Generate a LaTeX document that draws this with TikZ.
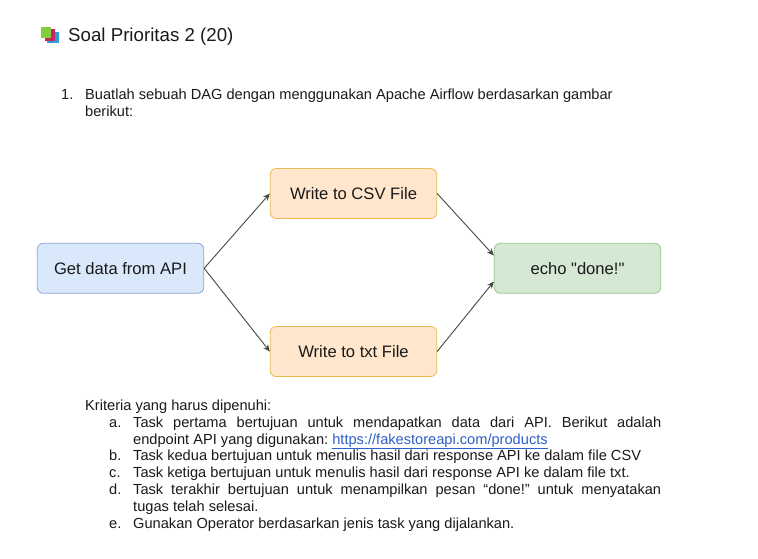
\documentclass[tikz,border=0pt]{standalone}
\usepackage{fontspec}
\setmainfont[Ligatures=TeXOff]{Liberation Sans}
\usetikzlibrary{arrows.meta}
\definecolor{ink}{HTML}{1A1A1A}
\definecolor{linkc}{HTML}{2F5FC8}
\definecolor{bluef}{HTML}{DAE8FC}\definecolor{blued}{HTML}{8CA8D2}
\definecolor{orangef}{HTML}{FFE6CC}\definecolor{oranged}{HTML}{EBBB52}
\definecolor{greenf}{HTML}{D5E8D4}\definecolor{greend}{HTML}{9CC887}
\definecolor{iconb}{HTML}{2A9FDC}\definecolor{iconr}{HTML}{C6285E}\definecolor{icong}{HTML}{84CC3A}
\tikzset{
 x=1pt,y=-1pt,
 flowbox/.style={draw,rounded corners=6pt,line width=0.8pt,minimum width=166.5pt,minimum height=50pt,inner sep=0pt,font=\fontsize{16.6}{20}\selectfont\frenchspacing,text=ink},
 flow/.style={draw=black!72,line width=0.9pt,-{Stealth[length=7pt,width=6pt]}},
 body/.style={anchor=base west,inner sep=0pt,font=\fontsize{14.62}{17}\selectfont\frenchspacing,text=ink},
}
\newcommand{\just}[1]{\makebox[528pt][s]{#1}}
\begin{document}
\begin{tikzpicture}
\useasboundingbox (0,0) rectangle (758,558);
\fill[white] (0,0) rectangle (758,558);
% icon
\fill[iconb] (47,32) rectangle (59,43);
\fill[iconr] (45,28.5) rectangle (55,41);
\fill[icong] (41,27) rectangle (51,38);
\node[body,font=\fontsize{18.7}{22}\selectfont] (title) at (68,41) {Soal Prioritas 2 (20)};
\node[body] (num) at (61,99) {1.};
\node[body] (q1) at (85,99) {Buatlah sebuah DAG dengan menggunakan Apache Airflow berdasarkan gambar};
\node[body] (q2) at (85,116) {berikut:};
% flow
\node[flowbox,fill=bluef,draw=blued] (api) at (120.5,268.3) {Get data from API};
\node[flowbox,fill=orangef,draw=oranged] (csv) at (353.5,193.5) {Write to CSV File};
\node[flowbox,fill=orangef,draw=oranged] (txt) at (353.5,351.5) {Write to txt File};
\node[flowbox,fill=greenf,draw=greend] (echo) at (577.5,268.3) {echo "done!"};
\draw[flow] (api.east) -- (csv.west);
\draw[flow] (api.east) -- (txt.west);
\draw[flow] (csv.east) -- (echo.west |- 0,255.5);
\draw[flow] (txt.east) -- (echo.west |- 0,281.5);
% criteria
\node[body] (k) at (85,410) {Kriteria yang harus dipenuhi:};
\node[body] (la) at (109,427) {a.};
\node[body] (ta) at (133,427) {\just{Task pertama bertujuan untuk mendapatkan data dari API. Berikut adalah}};
\node[body] (tb) at (133,444) {endpoint API yang digunakan: \textcolor{linkc}{\underline{https://fakestoreapi.com/products}}};
\node[body] (lb) at (109,460.5) {b.};
\node[body] (tc) at (133,460.5) {Task kedua bertujuan untuk menulis hasil dari response API ke dalam file CSV};
\node[body] (lc) at (109,477.5) {c.};
\node[body] (td) at (133,477.5) {Task ketiga bertujuan untuk menulis hasil dari response API ke dalam file txt.};
\node[body] (ld) at (109,494.5) {d.};
\node[body] (te) at (133,494.5) {\just{Task terakhir bertujuan untuk menampilkan pesan “done!” untuk menyatakan}};
\node[body] (tf) at (133,511.5) {tugas telah selesai.};
\node[body] (le) at (109,528) {e.};
\node[body] (tg) at (133,528) {Gunakan Operator berdasarkan jenis task yang dijalankan.};
\end{tikzpicture}
\end{document}
